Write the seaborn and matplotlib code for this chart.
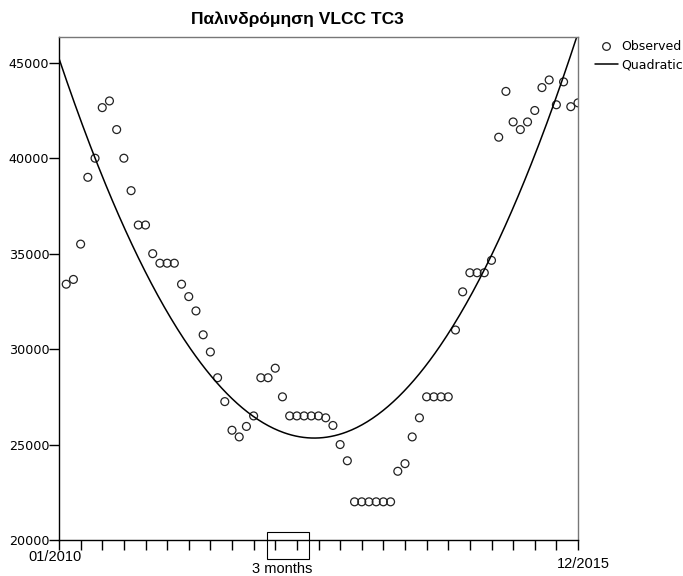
import numpy as np
import matplotlib.pyplot as plt
import seaborn as sns
from matplotlib.lines import Line2D
from matplotlib.patches import Rectangle
import matplotlib.transforms as mtransforms

# monthly observations, 01/2010 .. 12/2015
month = list(range(1, 73))
observed = [33400, 33650, 35500, 39000, 40000, 42650, 43000, 41500, 40000, 38300,
            36500, 36500, 35000, 34500, 34500, 34500, 33400, 32750, 32000, 30750,
            29850, 28500, 27250, 25750, 25400, 25950, 26500, 28500, 28500, 29000,
            27500, 26500, 26500, 26500, 26500, 26500, 26400, 26000, 25000, 24150,
            22000, 22000, 22000, 22000, 22000, 22000, 23600, 24000, 25400, 26400,
            27500, 27500, 27500, 27500, 31000, 33000, 34000, 34000, 34000, 34650,
            41100, 43500, 41900, 41500, 41900, 42500, 43700, 44100, 42800, 44000,
            42700, 42900]
date_labels = ['01/2010', '12/2015']
interval_label = '3 months'
series_labels = ['Observed', 'Quadratic']
title = 'Παλινδρόμηση VLCC TC3'

# quadratic fit of the observations
coef = np.polyfit(month, observed, 2)
grid = np.linspace(0, 72, 400)
fitted = np.polyval(coef, grid)

sns.set_style('white')
plt.rcParams['font.family'] = ['DejaVu Sans']
plt.rcParams['text.color'] = 'black'
plt.rcParams['xtick.color'] = 'black'
plt.rcParams['ytick.color'] = 'black'

fig = plt.figure(figsize=(6.83, 5.76), dpi=100)
ax = fig.add_axes([59/683, 36/576, 519/683, 503/576])

sns.scatterplot(x=month, y=observed, ax=ax, marker='o', s=32,
                facecolor='none', edgecolor='#222222', linewidth=0.9)
sns.lineplot(x=grid, y=fitted, ax=ax, color='black', linewidth=1.1)

ax.set_xlim(0, 72)
ax.set_ylim(20000, 46350)
ax.set_xticks(np.arange(0, 73, 3))
ax.set_xticklabels([])
ax.set_yticks(np.arange(20000, 45001, 5000))
ax.tick_params(axis='both', direction='out', length=7, width=1, color='black',
               bottom=True, left=True)
ax.tick_params(axis='y', labelsize=9.2, pad=0, labelcolor='black')

for side in ['left', 'bottom']:
    ax.spines[side].set_color('black')
    ax.spines[side].set_linewidth(1)
for side in ['top', 'right']:
    ax.spines[side].set_color('#777777')
    ax.spines[side].set_linewidth(1)

trans = mtransforms.blended_transform_factory(ax.transData, ax.transAxes)
ax.text(-0.5, -0.034, date_labels[0], transform=trans, ha='center', va='center',
        fontsize=10.5, family='Liberation Sans')
ax.text(72.7, -0.048, date_labels[1], transform=trans, ha='center', va='center',
        fontsize=10.5, family='Liberation Sans')
ax.text(30.9, -0.058, interval_label, transform=trans, ha='center', va='center',
        fontsize=10.5, family='Liberation Sans')
ax.add_patch(Rectangle((28.8, -0.038), 5.9, 0.054, transform=trans, fill=False,
                       edgecolor='black', linewidth=0.8, clip_on=False))

fig.text(297/683, 1 - 19/576, title, ha='center', va='center', fontsize=12.5,
         fontweight='bold', family='Liberation Sans', color='black')

handles = [Line2D([], [], marker='o', linestyle='none', markerfacecolor='none',
                  markeredgecolor='#222222', markersize=5.5, markeredgewidth=0.9),
           Line2D([], [], color='black', linewidth=1.1)]
fig.legend(handles, series_labels, loc='upper left',
           bbox_to_anchor=(595/683, 1 - 40/576), frameon=False, fontsize=9,
           handlelength=1.8, handletextpad=0.3, borderaxespad=0, borderpad=0,
           labelspacing=0.42)

fig.savefig('out.png', dpi=100)
